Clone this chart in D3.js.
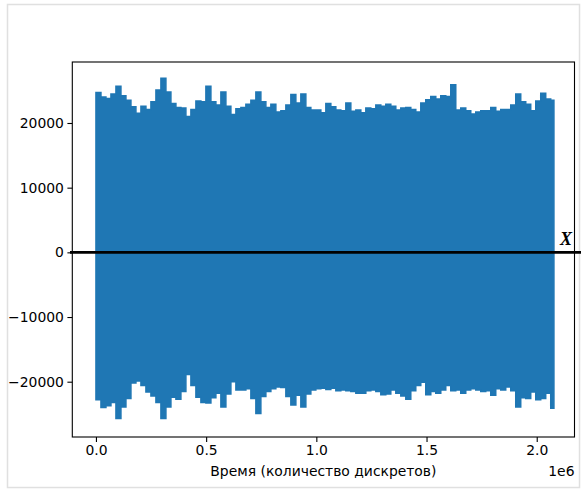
<!DOCTYPE html>
<html><head><meta charset="utf-8">
<script src="https://cdn.jsdelivr.net/npm/d3@7"></script>
<style>body{margin:0;background:#fff} svg{display:block}</style>
</head><body><svg id="c" width="581" height="490"></svg>
<script>
// Envelope of the waveform (one value per block of samples)
const sampleStep = 22676;
const endSample = 2078000;
const upperEnv = [24700,24000,23800,24500,25700,24200,23500,22500,21500,22600,22100,23300,25100,26900,24800,23000,22400,22300,21000,22100,23400,23300,25700,23300,22800,24800,22600,21300,22200,22400,22900,23500,24800,23300,22400,22900,21700,21900,22800,24400,23100,24500,22400,22000,22000,21600,
  23000,22500,22000,21900,23100,21800,22000,21600,22300,22200,22800,22600,22900,22600,22000,22300,22400,22100,21700,23100,23600,24100,23700,24200,24100,25900,22000,22300,21900,21400,21700,21900,21900,22400,21800,22100,22100,22800,24500,23300,22900,21900,23400,24600,23700,23500,23300];
const lowerEnv = [-22800,-24000,-23700,-23200,-25700,-23900,-22600,-20200,-19900,-20600,-21600,-22200,-23200,-25700,-23900,-22400,-22700,-21500,-18900,-20600,-22400,-23200,-23300,-22500,-21800,-23900,-21900,-20000,-21300,-21300,-21100,-22600,-24900,-22300,-21500,-21100,-20800,-20900,-22300,-23600,-22100,-23900,-21900,-21300,-21100,-21000,
  -21200,-21000,-21400,-21300,-21400,-21500,-21800,-21800,-21400,-21300,-21500,-22000,-21900,-21300,-21800,-22200,-22700,-21400,-20600,-20100,-22000,-21500,-21800,-21300,-20600,-21400,-21300,-21800,-21300,-21100,-21300,-21500,-21400,-22100,-21100,-21300,-20800,-21400,-23900,-22500,-22600,-21600,-22800,-22600,-21800,-24100,-22000];
const yTicks = [-20000,-10000,0,10000,20000];
const xTicks = [0,500000,1000000,1500000,2000000];
const xTickLabels = ["0.0","0.5","1.0","1.5","2.0"];
const xLabel = "Время (количество дискретов)";
const xOffsetLabel = "1e6";
const lineLabel = "X";

const svg = d3.select("#c");
const L = 72.3, R = 574.5, T = 62, B = 437;
const x = d3.scaleLinear().domain([-107300, 2171400]).range([L, R]);
const y = d3.scaleLinear().domain([-28550, 29430]).range([B, T]);

// outer light border
svg.append("rect").attr("x",7.5).attr("y",4.5).attr("width",572).attr("height",483)
  .attr("fill","none").attr("stroke","#e0e0e0").attr("stroke-width",1.5);

const pts = upperEnv.map((u,i)=>({t: i < upperEnv.length-1 ? i*sampleStep : endSample, u, l: lowerEnv[i]}));
const area = d3.area().curve(d3.curveStepAfter)
  .x(d=>x(d.t)).y0(d=>y(d.l)).y1(d=>y(d.u));
svg.append("path").datum(pts).attr("d",area)
  .attr("fill","#1f77b4").attr("stroke","#1f77b4").attr("stroke-width",1.5).attr("stroke-linejoin","miter");

const font = "DejaVu Sans, sans-serif";
const ya = svg.append("g").attr("transform",`translate(${L},0)`)
  .call(d3.axisLeft(y).tickValues(yTicks).tickSize(4.9).tickPadding(3.5).tickFormat(d3.format("d")));
const xa = svg.append("g").attr("transform",`translate(0,${B})`)
  .call(d3.axisBottom(x).tickValues(xTicks).tickSize(4.9).tickPadding(3.5).tickFormat((d,i)=>xTickLabels[i]));
[ya,xa].forEach(g=>{
  g.select(".domain").remove();
  g.selectAll(".tick line").attr("stroke","#000").attr("stroke-width",1.1);
  g.selectAll(".tick text").attr("font-family",font).attr("font-size",13.9).attr("fill","#000");
});
ya.selectAll(".tick text").text(d=>d<0?"\u2212"+Math.abs(d):String(d));

svg.append("rect").attr("x",L).attr("y",T).attr("width",R-L).attr("height",B-T)
  .attr("fill","none").attr("stroke","#000").attr("stroke-width",1.1);

// black zero line
svg.append("line").attr("x1",70).attr("x2",581).attr("y1",y(0)).attr("y2",y(0))
  .attr("stroke","#000").attr("stroke-width",2.6);
svg.append("text").attr("x",560).attr("y",244.5).text(lineLabel)
  .attr("font-family","Liberation Serif, serif").attr("font-style","italic").attr("font-weight","bold")
  .attr("font-size",18).attr("fill","#000");

svg.append("text").attr("x",(L+R)/2).attr("y",476).attr("text-anchor","middle").text(xLabel)
  .attr("font-family",font).attr("font-size",13.9).attr("fill","#000");
svg.append("text").attr("x",R).attr("y",476).attr("text-anchor","end").text(xOffsetLabel)
  .attr("font-family",font).attr("font-size",13.9).attr("fill","#000");
</script></body></html>
